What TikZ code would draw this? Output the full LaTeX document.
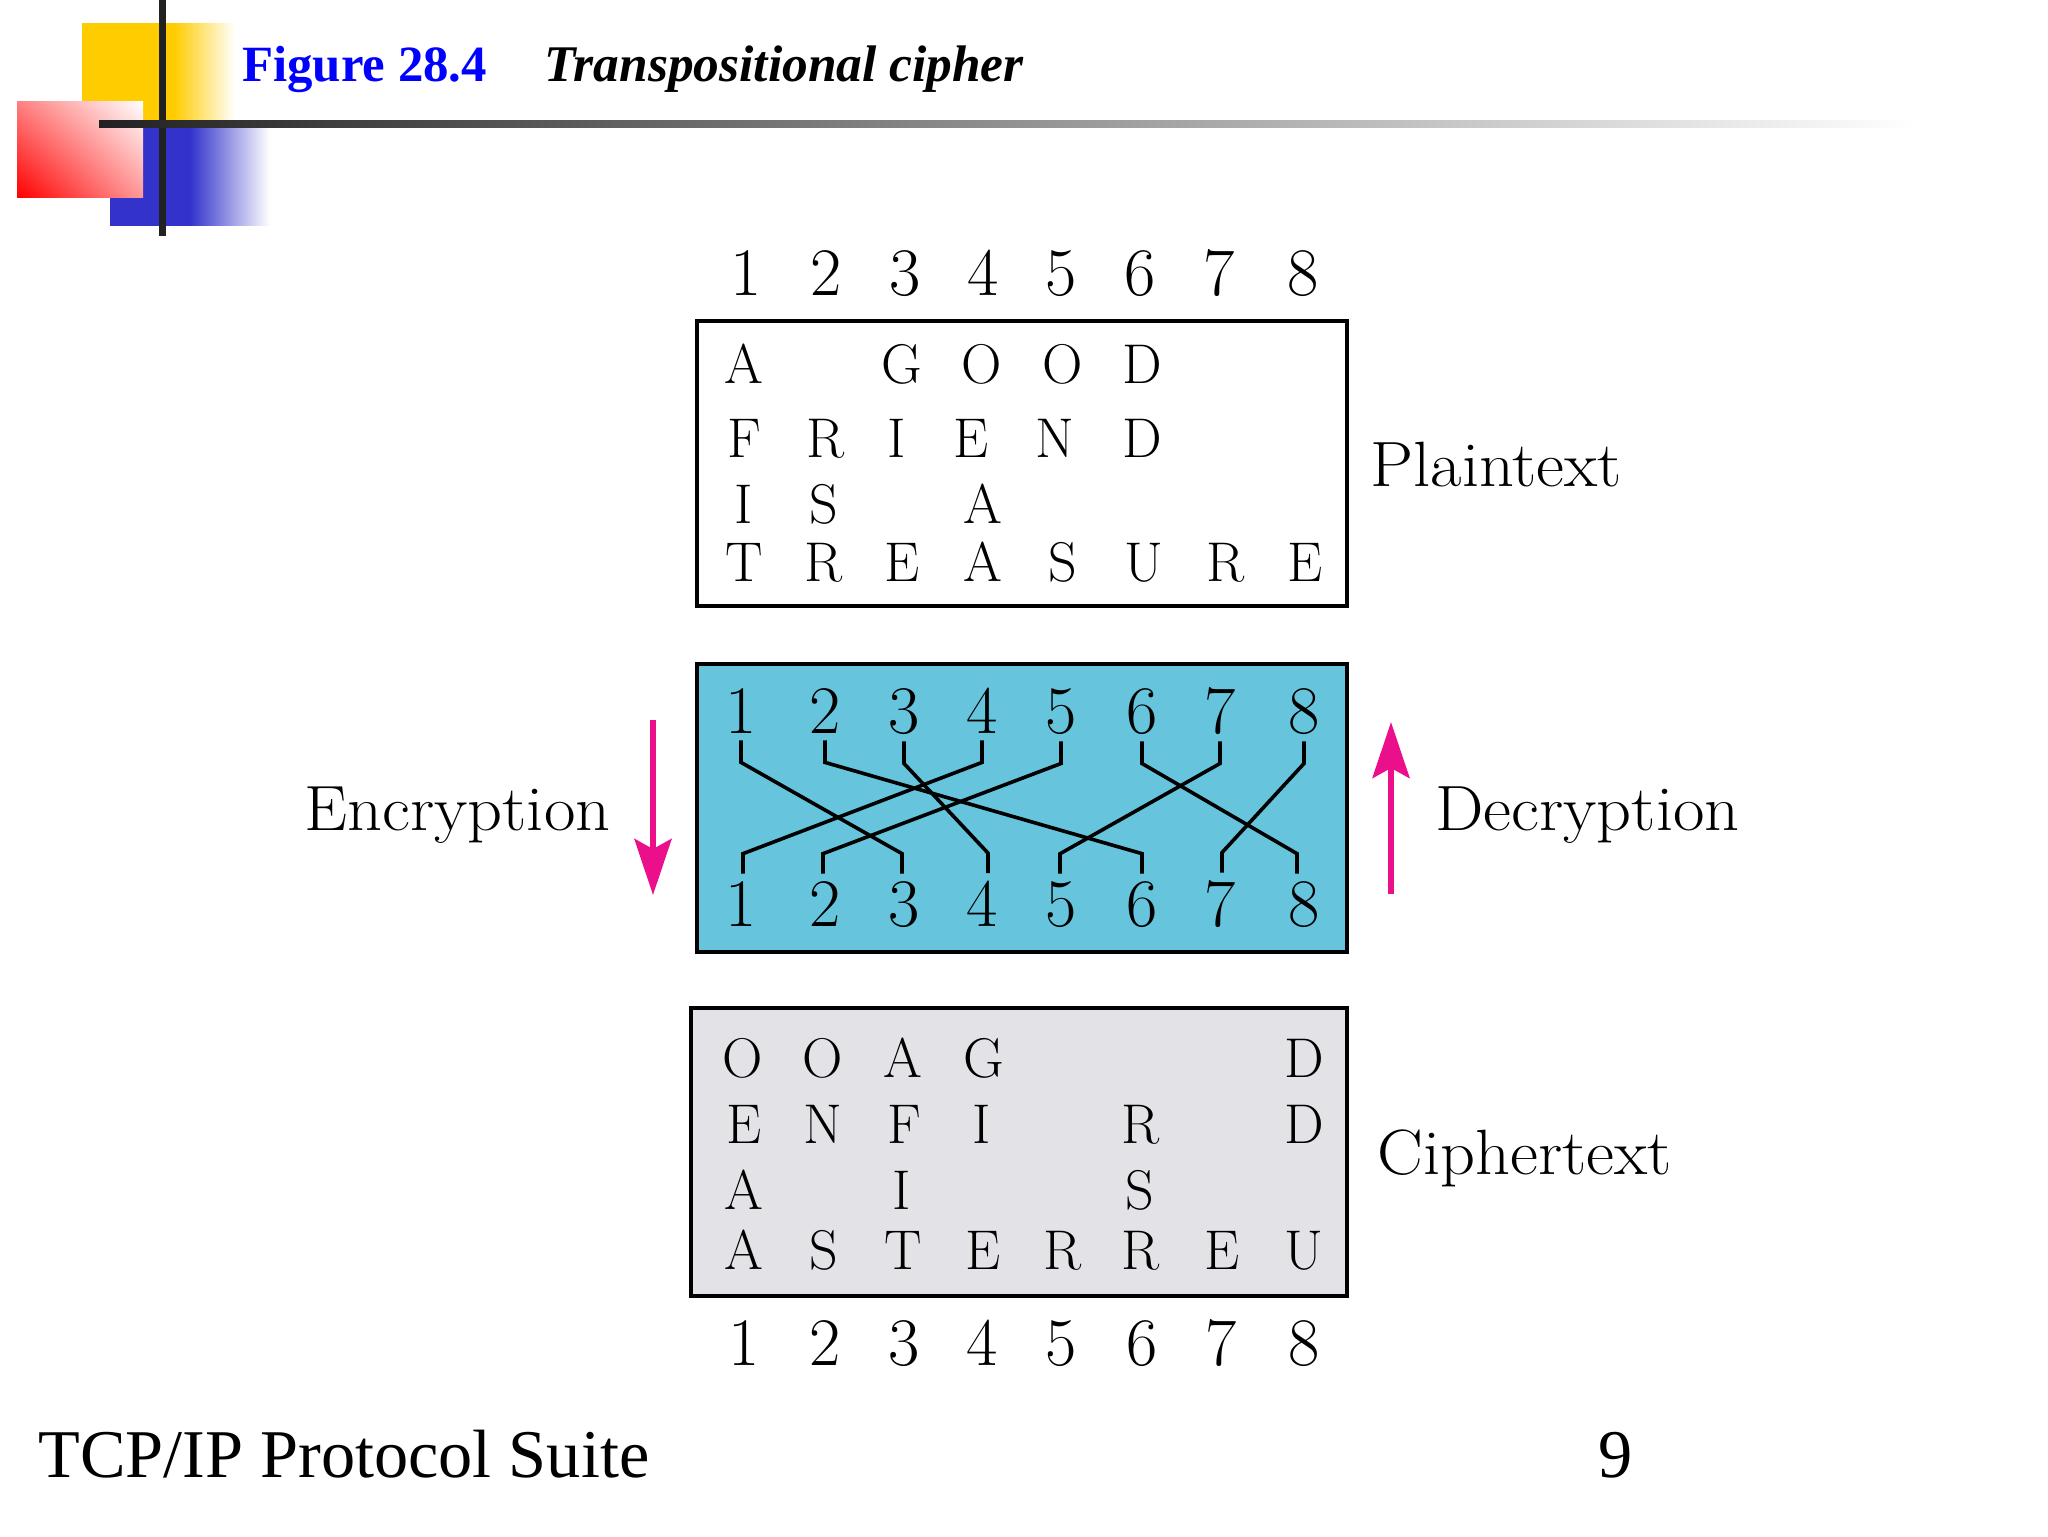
\documentclass[tikz,border=0pt]{standalone}
\usepackage{fontspec}
\usetikzlibrary{arrows.meta,calc,shadings}
\newfontfamily\slidefont{Liberation Serif}
\definecolor{barblack}{HTML}{222222}
\definecolor{slideyellow}{HTML}{FFCC00}
\definecolor{slideblue}{HTML}{3333CC}
\definecolor{slidered}{HTML}{FF0000}
\definecolor{keyblue}{HTML}{66C4DC}
\definecolor{cipherfill}{HTML}{E3E2E6}
\definecolor{arrowpink}{HTML}{EC0F8C}
\pgfdeclarehorizontalshading{yellowfade}{100bp}{color(0bp)=(slideyellow); color(55bp)=(slideyellow); color(75bp)=(white); color(100bp)=(white)}
\pgfdeclarehorizontalshading{bluefade}{100bp}{color(0bp)=(slideblue); color(50bp)=(slideblue); color(75bp)=(white); color(100bp)=(white)}
\tikzset{x=0.5pt,y=-0.5pt, % One unit is one pixel of the slide, y runs down
        panel/.style={ % Sets the properties for each box
            draw=black,
            line width=2pt,
            minimum width=325pt,
            minimum height=144pt,
            inner sep=0pt},
        digit/.style={ % Column numbers
            font=\fontsize{34}{34}\selectfont,
            anchor=base,
            inner sep=3.5pt},
        cell/.style={ % Letters of the text blocks
            font=\fontsize{28}{28}\selectfont,
            anchor=base,
            inner sep=0pt},
        tag/.style={ % Plaintext, Ciphertext and so on
            font=\fontsize{32}{32}\selectfont,
            xscale=1.07,
            anchor=base west,
            inner sep=0pt},
        footer/.style={
            font=\slidefont\fontsize{34.15}{34}\selectfont,
            anchor=base west,
            inner sep=0pt},
        heading/.style={
            font=\slidefont\bfseries\fontsize{25.4}{25}\selectfont,
            anchor=base west,
            inner sep=0pt},
        wire/.style={
            draw=black,
            line width=1.8pt},
        flow/.style={
            draw=arrowpink,
            line width=3pt,
            -{Stealth[length=28pt,width=18.5pt,inset=5pt]}}
        }

\begin{document}
\begin{tikzpicture}
    \useasboundingbox (0,0) rectangle (2048,1536);

    % corner decoration
    \shade[shading=yellowfade] (82,24) rectangle (235,120);
    \shade[shading=bluefade] (110,127) rectangle (270,225);
    \shade[lower left=slidered,upper right=white,upper left=slidered!50!white,lower right=slidered!40!white]
        (17,102) rectangle (143,197);
    \fill[barblack] (159,0) rectangle (166,236);
    \shade[left color=barblack,right color=white] (99,120) rectangle (1916,127);

    \node[heading,text=blue] (figno) at (242,82) {Figure 28.4};
    \node[heading,font=\slidefont\bfseries\itshape\fontsize{25.7}{25}\selectfont] (figtitle) at (544,82) {Transpositional cipher};

    % the three boxes
    \node[panel,minimum height=142.5pt] (plainbox) at (1022,463.5) {};
    \node[panel,fill=keyblue] (keybox) at (1022,808) {};
    \node[panel,fill=cipherfill,minimum width=328pt] (cipherbox) at (1019,1152) {};

    % numbers
    \foreach \n/\x in {1/746,2/826,3/905,4/983,5/1061,6/1140,7/1219,8/1303}
        \node[digit] (head\n) at (\x,295) {\n};
    \foreach \n/\x in {1/741,2/825,3/904,4/982,5/1061,6/1142,7/1220,8/1304} {
        \node[digit] (keyt\n) at (\x,733) {\n};
        \node[digit] (keyb\n) at (\x,926) {\n};
    }
    \foreach \n/\x in {1/744,2/825,3/904,4/982,5/1061,6/1142,7/1221,8/1304}
        \node[digit] (foot\n) at (\x,1365) {\n};

    % plaintext
    \foreach \c/\x/\ltr in {1/744/A,3/902/G,4/982/O,5/1063/O,6/1142/D}
        \node[cell] (pa\c) at (\x,383) {\ltr};
    \foreach \c/\x/\ltr in {1/744/F,2/826/R,3/897/I,4/971/E,5/1055/N,6/1142/D}
        \node[cell] (pb\c) at (\x,457) {\ltr};
    \foreach \c/\x/\ltr in {1/744/I,2/824/S,4/983/A}
        \node[cell] (pc\c) at (\x,523) {\ltr};
    \foreach \c/\x/\ltr in {1/744/T,2/824/R,3/902/E,4/983/A,5/1063/S,6/1144/U,7/1226/R,8/1305/E}
        \node[cell] (pd\c) at (\x,581) {\ltr};

    % ciphertext
    \foreach \c/\x/\ltr in {1/743/O,2/823/O,3/903/A,4/984/G,8/1304/D}
        \node[cell] (ca\c) at (\x,1077) {\ltr};
    \foreach \c/\x/\ltr in {1/744/E,2/823/N,3/904/F,4/982/I,6/1141/R,8/1304/D}
        \node[cell] (cb\c) at (\x,1143) {\ltr};
    \foreach \c/\x/\ltr in {1/744/A,3/902/I,6/1140/S}
        \node[cell] (cc\c) at (\x,1209) {\ltr};
    \foreach \c/\x/\ltr in {1/744/A,2/824/S,3/903/T,4/983/E,5/1063/R,6/1141/R,7/1222/E,8/1304/U}
        \node[cell] (cd\c) at (\x,1269) {\ltr};

    % key wires: from top number to bottom number
    \foreach \a/\b/\dx in {1/3/-2,2/6/0,3/4/6,4/1/2,5/2/-2,6/8/-7,7/5/-1,8/7/2}
        \draw[wire] (keyt\a.south) -- ++(0,22)
            -- ($(keyb\b.north)+(\dx,-20)$) -- ($(keyb\b.north)+(\dx,0)$);

    \node[tag] (plainlabel) at (1370,486) {Plaintext};
    \node[tag] (cipherlabel) at (1377,1174) {Ciphertext};
    \node[tag] (enclabel) at (304,830) {Encryption};
    \node[tag] (declabel) at (1435,830) {Decryption};

    \coordinate (encstart) at (653,720);
    \coordinate (encend) at (653,895);
    \coordinate (decstart) at (1391,894);
    \coordinate (decend) at (1391,722);
    \draw[flow] (encstart) -- (encend);
    \draw[flow] (decstart) -- (decend);

    \node[footer] (suite) at (38,1477) {TCP/IP Protocol Suite};
    \node[footer] (pageno) at (1598,1477) {9};
\end{tikzpicture}
\end{document}
